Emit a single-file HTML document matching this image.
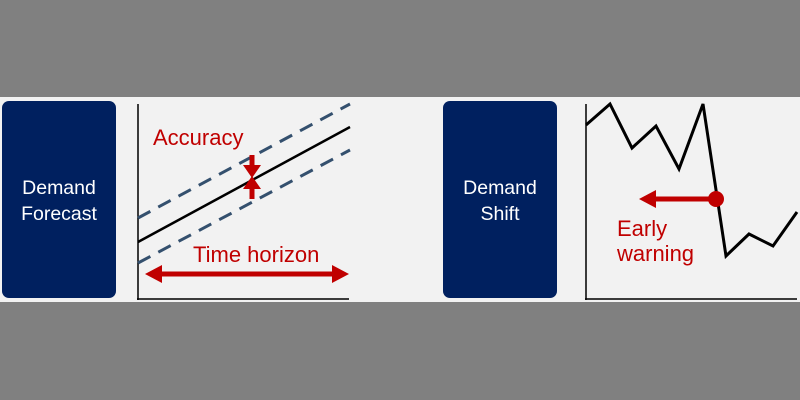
<!DOCTYPE html>
<html><head><style>
body{margin:0;width:800px;height:400px;background:#808080;overflow:hidden}
svg{display:block}
</style></head><body>
<svg width="800" height="400" xmlns="http://www.w3.org/2000/svg" font-family="Liberation Sans, sans-serif">
<rect x="0" y="97" width="800" height="205" fill="#f2f2f2"/>
<rect x="2" y="101" width="114" height="197" rx="7" fill="#00205f"/>
<text x="59" y="194" fill="#fff" font-size="19.5" text-anchor="middle">Demand</text>
<text x="59" y="220" fill="#fff" font-size="19.5" text-anchor="middle">Forecast</text>
<line x1="138" y1="104" x2="138" y2="300" stroke="#000" stroke-width="1.5"/>
<line x1="137" y1="299" x2="349" y2="299" stroke="#000" stroke-width="1.5"/>
<line x1="138" y1="218" x2="350" y2="104" stroke="#34506e" stroke-width="3" stroke-dasharray="14,9"/>
<line x1="138" y1="263" x2="350" y2="150" stroke="#34506e" stroke-width="3" stroke-dasharray="14,9"/>
<line x1="138" y1="242" x2="350" y2="127" stroke="#000" stroke-width="2.5"/>
<text x="153" y="145" fill="#c00000" font-size="22">Accuracy</text>
<line x1="252" y1="155" x2="252" y2="168" stroke="#c00000" stroke-width="5"/>
<polygon points="243,165 261,165 252,178" fill="#c00000"/>
<line x1="252" y1="186" x2="252" y2="199" stroke="#c00000" stroke-width="5"/>
<polygon points="243,189 261,189 252,176" fill="#c00000"/>
<text x="193" y="262" fill="#c00000" font-size="22">Time horizon</text>
<line x1="158" y1="274" x2="336" y2="274" stroke="#c00000" stroke-width="5"/>
<polygon points="145,274 162,265 162,283" fill="#c00000"/>
<polygon points="349,274 332,265 332,283" fill="#c00000"/>
<rect x="443" y="101" width="114" height="197" rx="7" fill="#00205f"/>
<text x="500" y="194" fill="#fff" font-size="19.5" text-anchor="middle">Demand</text>
<text x="500" y="220" fill="#fff" font-size="19.5" text-anchor="middle">Shift</text>
<line x1="586" y1="104" x2="586" y2="300" stroke="#000" stroke-width="1.5"/>
<line x1="585" y1="299" x2="797" y2="299" stroke="#000" stroke-width="1.5"/>
<polyline points="586,125 610,104 632,148 656,126 679,169 703,104 726,256 749,234 773,246 797,212" fill="none" stroke="#000" stroke-width="3"/>
<line x1="652" y1="199" x2="716" y2="199" stroke="#c00000" stroke-width="5"/>
<polygon points="639,199 656,190 656,208" fill="#c00000"/>
<circle cx="716" cy="199" r="8" fill="#c00000"/>
<text x="617" y="236" fill="#c00000" font-size="22">Early</text>
<text x="617" y="261" fill="#c00000" font-size="22">warning</text>
</svg>
</body></html>
